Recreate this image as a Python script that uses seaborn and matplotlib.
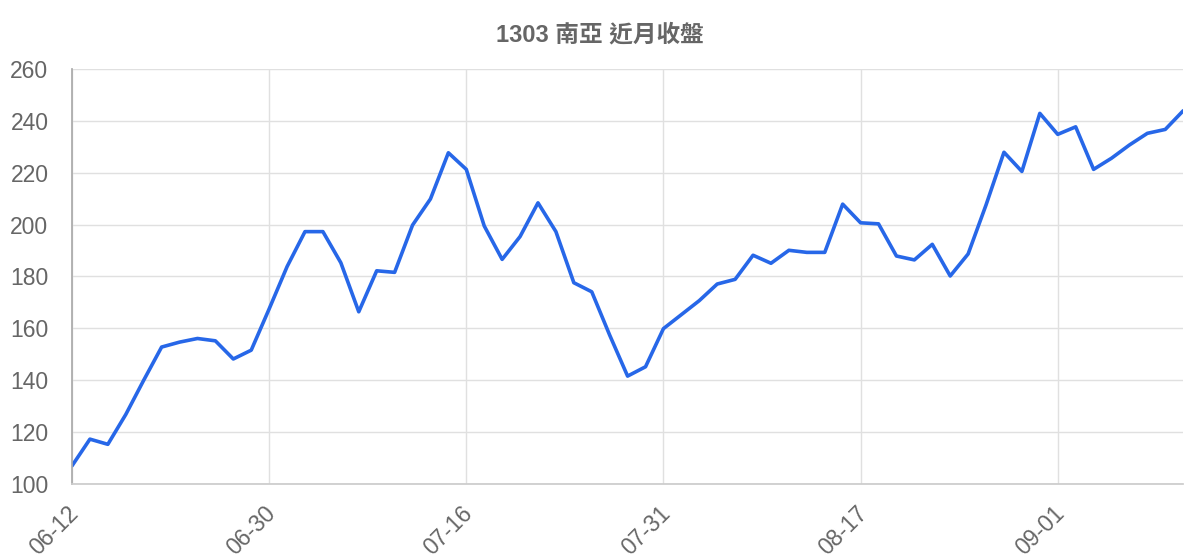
import matplotlib
matplotlib.use("Agg")
import matplotlib.pyplot as plt
import matplotlib.transforms as mtransforms
import seaborn as sns
import pandas as pd

# 日期 (MM-DD)
dates = [
    "06-12", "06-13", "06-14", "06-15", "06-16", "06-19", "06-20", "06-21",
    "06-26", "06-27", "06-29", "06-30",
    "07-03", "07-04", "07-05", "07-06", "07-07", "07-10", "07-11", "07-12",
    "07-13", "07-14", "07-16",
    "07-17", "07-18", "07-19", "07-20", "07-21", "07-24", "07-25", "07-26",
    "07-27", "07-28", "07-31",
    "08-01", "08-02", "08-03", "08-04", "08-07", "08-08", "08-09", "08-10",
    "08-11", "08-14", "08-17",
    "08-18", "08-21", "08-22", "08-23", "08-24", "08-25", "08-28", "08-29",
    "08-30", "08-31", "09-01",
    "09-04", "09-05", "09-06", "09-07", "09-08", "09-11", "09-12",
]

# 近月收盤
close = [
    107.0, 117.3, 115.3, 126.8, 140.0, 152.8, 154.7, 156.1, 155.2, 148.2, 151.6,
    167.5, 183.8, 197.3, 197.3, 185.3, 166.4, 182.2, 181.6, 199.8, 209.9,
    227.7, 221.3, 199.5, 186.6, 195.4, 208.4, 197.3, 177.6, 174.1, 157.4,
    141.6, 145.2, 159.9, 165.3, 170.7, 177.1, 178.9, 188.2, 185.1, 190.1,
    189.3, 189.3, 207.9, 200.7, 200.3, 187.9, 186.4, 192.4, 180.2, 188.7,
    207.6, 227.9, 220.5, 242.9, 234.8, 237.7, 221.3, 225.6, 230.7, 235.2,
    236.7, 243.9,
]

title = "1303 南亞 近月收盤"
tick_step = 11

sns.set_theme(style="whitegrid")
plt.rcParams['font.family'] = ['Liberation Sans', 'Noto Sans CJK TC', 'DejaVu Sans']

df = pd.DataFrame({"idx": range(len(dates)), "date": dates, "close": close})

fig = plt.figure(figsize=(12, 5.6), dpi=100)
ax = fig.add_axes([0.06, 0.1357, 0.926, 0.7411])

sns.lineplot(data=df, x="idx", y="close", ax=ax, color="#2767e8", linewidth=2.6)

ax.set_xlim(0, len(dates) - 1)
ax.set_ylim(100, 260)
ax.set_yticks(range(100, 261, 20))

tick_idx = list(range(0, len(dates), tick_step))
ax.set_xticks(tick_idx)
ax.set_xticklabels([dates[i] for i in tick_idx], rotation=45,
                   ha="right", va="center", rotation_mode="anchor")

ax.tick_params(axis="both", length=14, width=1, color="#e0e0e0",
               labelsize=16.5, labelcolor="#666666", pad=3)
ax.tick_params(axis="x", pad=5)
# 斜體標籤稍微往右移
shift = mtransforms.ScaledTranslation(3 / 100, 0, fig.dpi_scale_trans)
for lab in ax.get_xticklabels():
    lab.set_transform(lab.get_transform() + shift)

ax.grid(color="#e0e0e0", linewidth=1)
for s in ["top", "right"]:
    ax.spines[s].set_visible(False)
ax.spines["left"].set_color("#aaaaaa")
ax.spines["bottom"].set_color("#cccccc")
ax.set_xlabel("")
ax.set_ylabel("")

fig.text(0.5, 1 - 35 / 560, title, ha="center", va="center",
         fontsize=17, fontweight="bold", color="#666666")

fig.savefig("out.png", dpi=100)
